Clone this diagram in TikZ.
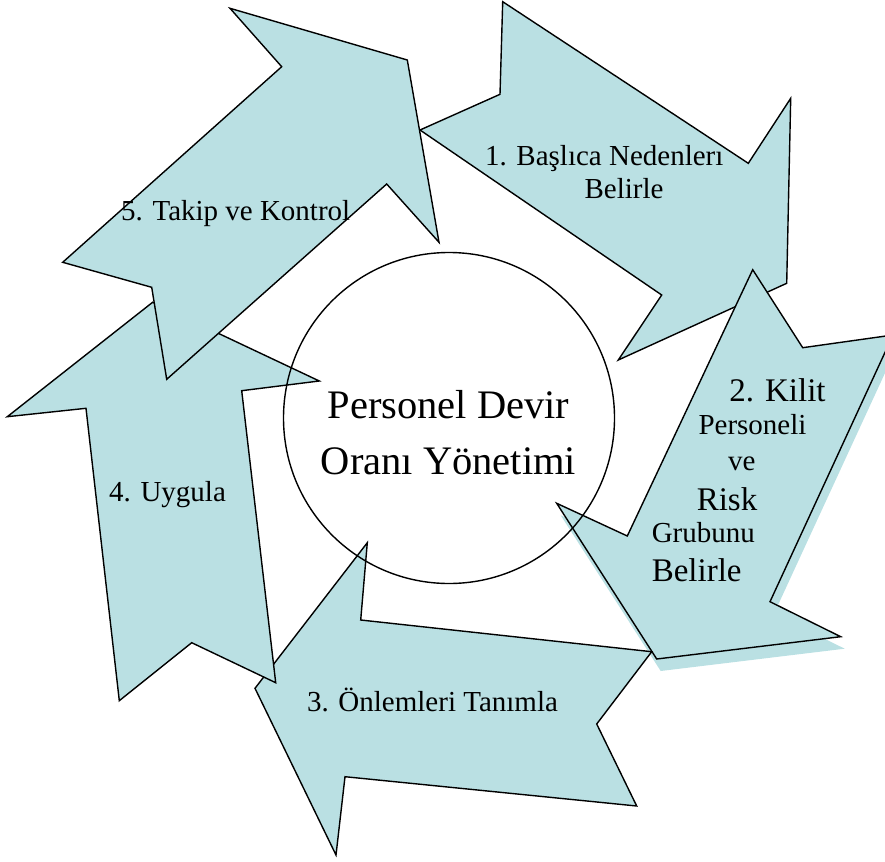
\documentclass[tikz,border=0pt]{standalone}
\usepackage{fontspec}
\setmainfont{Liberation Serif}
\definecolor{arrowfill}{RGB}{186,224,227}
\begin{document}
\begin{tikzpicture}[x=1pt,y=-1pt,
  blockarrow/.style={fill=arrowfill,draw=black,line width=1.4pt,line join=miter},
  shadowarrow/.style={fill=arrowfill,draw=none},
  lbl/.style={anchor=base,inner sep=0pt,font=\fontsize{29}{33}\selectfont},
  lblbig/.style={anchor=base,inner sep=0pt,font=\fontsize{33}{38}\selectfont},
  lblmain/.style={anchor=base,inner sep=0pt,font=\fontsize{40.5}{46}\selectfont}]
\useasboundingbox (0,0) rectangle (885,861);
\clip (0,0) rectangle (885,861);
% arrow 1
\draw[blockarrow] (502.7,1.7) -- (748.3,163.3) -- (790.7,98.3) -- (786.7,283.3) -- (618.3,360) -- (661.7,295) -- (420,130) -- (500,94.3) -- cycle;
% arrow 2 shadow and arrow
\fill[shadowarrow,shift={(4,12)}] (752.7,269.7) -- (802.7,347.7) -- (893,335) -- (770,601.7) -- (840.7,636.7) -- (656.7,659) -- (556.7,503.3) -- (627.3,536) -- cycle;
\draw[blockarrow] (752.7,269.7) -- (802.7,347.7) -- (893,335) -- (770,601.7) -- (840.7,636.7) -- (656.7,659) -- (556.7,503.3) -- (627.3,536) -- cycle;
% arrow 3
\draw[blockarrow] (367.3,542.7) -- (360.7,620) -- (651.7,651.7) -- (596.7,724) -- (636.7,806) -- (345,776.7) -- (336,855) -- (255,688.3) -- cycle;
% arrow 4
\draw[blockarrow] (152.6,302.3) -- (319.3,381) -- (241.7,390.7) -- (275.7,682.7) -- (191.7,642.7) -- (119.3,700.7) -- (86,408.3) -- (7.3,416.7) -- cycle;
% arrow 5
\draw[blockarrow] (230,8.3) -- (407.3,60) -- (439,242.3) -- (386.7,184) -- (166.7,379.3) -- (151.7,287.3) -- (62.7,262.3) -- (281.7,66.7) -- cycle;
% centre circle
\node[circle,draw=black,line width=1.4pt,minimum size=331pt,inner sep=0pt] (core) at (449,418) {};
% labels
\node[lblmain] (m1) at (448.5,418) {Personel Devir};
\node[lblmain] (m2) at (448.5,474) {Oranı Yönetimi};
\node[lbl] (t1a) at (604.2,165) {1. Başlıca Nedenlerı};
\node[lbl] (t1b) at (624,198) {Belirle};
\node[lblbig] (t2a) at (777.5,401.7) {2. Kilit};
\node[lbl] (t2b) at (752.5,434) {Personeli};
\node[lbl] (t2c) at (741.7,470) {ve};
\node[lblbig] (t2d) at (727,510) {Risk};
\node[lbl] (t2e) at (703.3,542.7) {Grubunu};
\node[lblbig] (t2f) at (696.7,581.7) {Belirle};
\node[lbl] (t3) at (432.5,711.7) {3. Önlemleri Tanımla};
\node[lbl] (t4) at (167.5,501) {4. Uygula};
\node[lbl] (t5) at (235.7,220) {5. Takip ve Kontrol};
\end{tikzpicture}
\end{document}
